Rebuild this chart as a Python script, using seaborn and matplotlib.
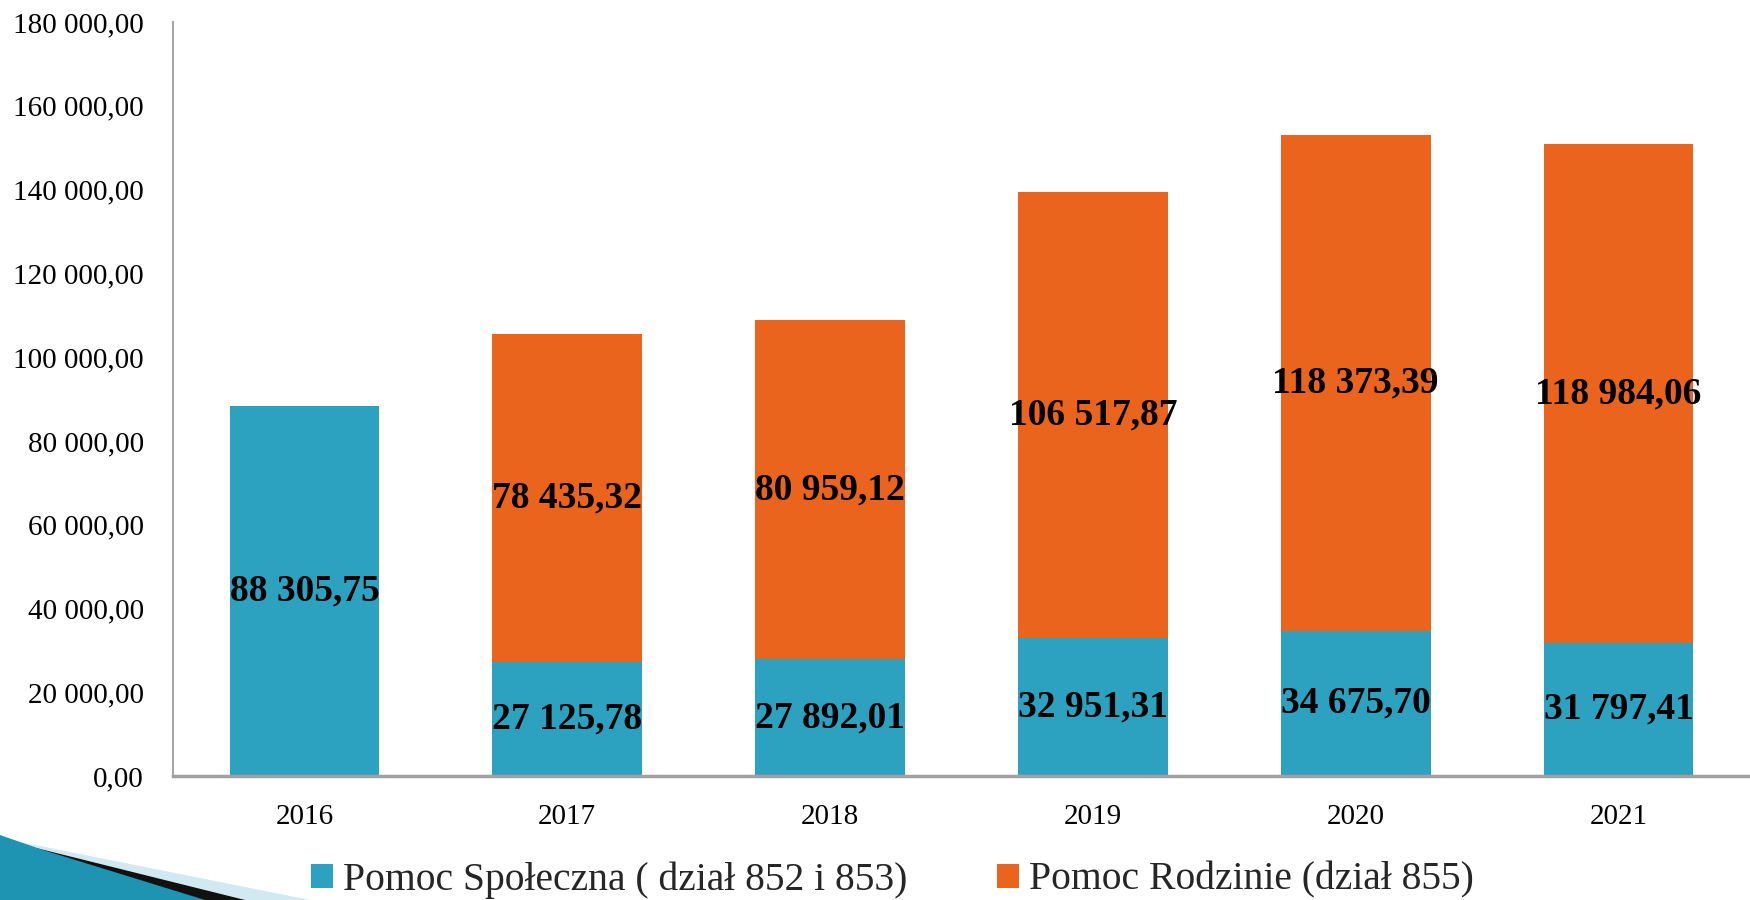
import numpy as np
import pandas as pd
import matplotlib
matplotlib.use('Agg')
import matplotlib.pyplot as plt
from matplotlib.patches import Polygon, Patch
import seaborn as sns

# data
years = ['2016', '2017', '2018', '2019', '2020', '2021']
pomoc_spoleczna = [88305.75, 27125.78, 27892.01, 32951.31, 34675.70, 31797.41]
pomoc_rodzinie = [0.0, 78435.32, 80959.12, 106517.87, 118373.39, 118984.06]
y_ticks = [0, 20000, 40000, 60000, 80000, 100000, 120000, 140000, 160000, 180000]

label_blue = 'Pomoc Społeczna ( dział 852 i 853)'
label_orange = 'Pomoc Rodzinie (dział 855)'
c_blue = '#2CA2C0'
c_orange = '#EA641E'

sns.set_theme(style='white')
plt.rcParams['font.family'] = ['Liberation Serif', 'DejaVu Serif']


def pl_fmt(v):
    s = f"{v:,.2f}"
    return s.replace(',', ' ').replace('.', ',')


df = pd.DataFrame({'rok': years, 'spol': pomoc_spoleczna, 'rodz': pomoc_rodzinie})
df['total'] = df['spol'] + df['rodz']

fig = plt.figure(figsize=(17.5, 9), dpi=100)
ax = fig.add_axes([173 / 1750, 1 - 776 / 900, 1 - 173 / 1750, (776 - 22) / 900])

sns.barplot(data=df, x='rok', y='total', color=c_orange, width=0.57,
            saturation=1, ax=ax, linewidth=0)
sns.barplot(data=df, x='rok', y='spol', color=c_blue, width=0.57,
            saturation=1, ax=ax, linewidth=0)

# value labels in the middle of each segment
for i, (b, o) in enumerate(zip(pomoc_spoleczna, pomoc_rodzinie)):
    ax.text(i, b / 2, pl_fmt(b), ha='center', va='center',
            fontsize=27, fontweight='bold', color='black')
    if o > 0:
        ax.text(i, b + o / 2, pl_fmt(o), ha='center', va='center',
                fontsize=27, fontweight='bold', color='black')

ax.set_xlim(-0.5, 5.5)
ax.set_ylim(0, 180000)
ax.set_yticks(y_ticks)
ax.set_yticklabels([pl_fmt(t) for t in y_ticks])
ax.set_xlabel('')
ax.set_ylabel('')
ax.tick_params(axis='y', length=0, pad=21, labelsize=21, colors='black')
ax.tick_params(axis='x', length=0, pad=20, labelsize=21, colors='black')
for side in ['top', 'right']:
    ax.spines[side].set_visible(False)
ax.spines['left'].set_color('#A6A6A6')
ax.spines['left'].set_linewidth(1.5)
ax.spines['bottom'].set_color('#A0A0A0')
ax.spines['bottom'].set_linewidth(2.5)

handles = [Patch(facecolor=c_blue, edgecolor='none', label=label_blue),
           Patch(facecolor=c_orange, edgecolor='none', label=label_orange)]
fig.legend(handles=handles, loc='center', bbox_to_anchor=(0.51, 1 - 880 / 900),
           ncol=2, frameon=False, fontsize=28.5, handlelength=0.56, handleheight=0.56,
           handletextpad=0.25, columnspacing=2.27, borderaxespad=0)


# slide decoration in the bottom left corner
def fig_poly(pts, color):
    xy = [(x / 1750, 1 - y / 900) for x, y in pts]
    fig.patches.append(Polygon(xy, closed=True, facecolor=color, edgecolor='none',
                               transform=fig.transFigure, zorder=5))


fig_poly([(0, 838), (310, 900), (0, 900)], '#D3E9F1')
fig_poly([(0, 839), (245, 900), (0, 900)], '#111111')
fig_poly([(0, 835), (43, 850), (205, 900), (0, 900)], '#1E93B2')

fig.savefig('out.png', dpi=100)
